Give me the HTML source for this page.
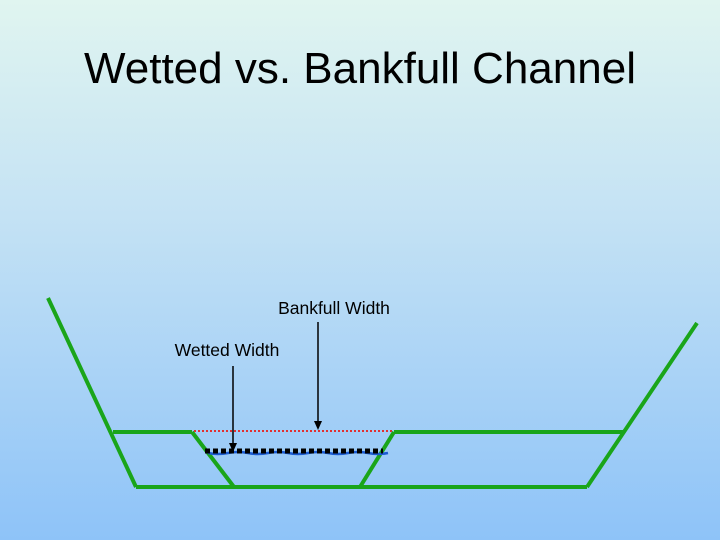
<!DOCTYPE html>
<html><head><style>
html,body{margin:0;padding:0;width:720px;height:540px;overflow:hidden}
body{background:linear-gradient(#e0f5f0,#c4e2f4 40%,#8ec3f8);font-family:"Liberation Sans",sans-serif}
svg{display:block}
</style></head><body>
<svg width="720" height="540" xmlns="http://www.w3.org/2000/svg">
<text x="360" y="83" text-anchor="middle" font-size="44" fill="#000">Wetted vs. Bankfull Channel</text>
<text x="334" y="314" text-anchor="middle" font-size="17.5">Bankfull Width</text>
<text x="227" y="356" text-anchor="middle" font-size="17.5">Wetted Width</text>
<g stroke="#1aa51a" stroke-width="4" fill="none">
<line x1="48" y1="298" x2="136" y2="487"/>
<line x1="697" y1="323" x2="587" y2="487"/>
<line x1="136" y1="487" x2="587" y2="487"/>
<line x1="113" y1="432" x2="192" y2="432"/>
<line x1="394" y1="432" x2="624" y2="432"/>
<line x1="192" y1="432" x2="234" y2="487"/>
<line x1="394" y1="432" x2="360" y2="487"/>
</g>
<line x1="194" y1="431" x2="393" y2="431" stroke="#e03030" stroke-width="2" stroke-dasharray="2,2"/>
<path d="M208,453 q10,2 20,0 t20,0 t20,0 t20,0 t20,0 t20,0 t20,0 t20,0 t20,0" stroke="#1a5ad0" stroke-width="2.5" fill="none"/>
<line x1="205" y1="451" x2="383" y2="451" stroke="#000" stroke-width="5" stroke-dasharray="5,3"/>
<line x1="233" y1="366" x2="233" y2="444" stroke="#000" stroke-width="1.5"/>
<path d="M229,443 L237,443 L233,452 Z"/>
<line x1="318" y1="322" x2="318" y2="422" stroke="#000" stroke-width="1.5"/>
<path d="M314,421 L322,421 L318,430 Z"/>
</svg>
</body></html>
